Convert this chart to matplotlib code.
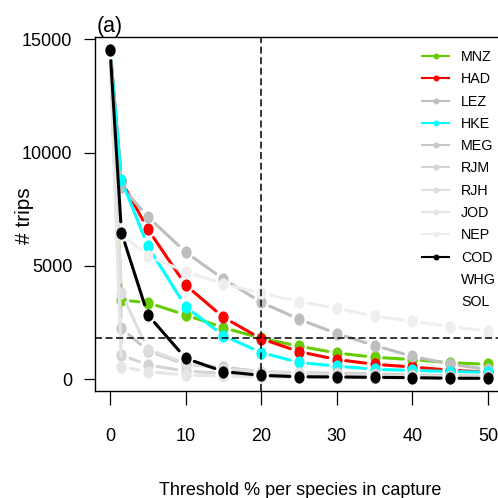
import numpy as np
import matplotlib
matplotlib.use("Agg")
import matplotlib.pyplot as plt
from matplotlib.path import Path
from matplotlib.transforms import Affine2D, IdentityTransform
from matplotlib.collections import LineCollection
from matplotlib.lines import Line2D

plt.rcParams["font.family"] = ["Liberation Sans", "DejaVu Sans"]

# threshold (% per species in capture)
thresholds = [0, 1.5, 5, 10, 15, 20, 25, 30, 35, 40, 45, 50]

species = ["MNZ", "HAD", "LEZ", "HKE", "MEG", "RJM", "RJH", "JOD", "NEP", "COD", "WHG", "SOL"]
colors = ["#66CD00", "#FF0000", "#BEBEBE", "#00FFFF", "#C8C8C8", "#D3D3D3",
          "#DEDEDE", "#E6E6E6", "#EEEEEE", "#000000", "none", "none"]

mnz = [14540, 3490, 3370, 2830, 2270, 1800, 1450, 1150, 960, 860, 720, 650]
had = [14540, 8750, 6620, 4150, 2725, 1780, 1210, 860, 650, 530, 390, 300]
lez = [14540, 8500, 7170, 5600, 4420, 3390, 2640, 2010, 1480, 1000, 660, 420]
hke = [14540, 8790, 5860, 3200, 1915, 1170, 730, 570, 430, 380, 330, 300]
meg = [14540, 2240, 1250, 650, 520, 320, 280, 250, 220, 180, 150, 120]
rjm = [14540, 1060, 620, 350, 250, 180, 140, 110, 90, 70, 60, 50]
rjh = [14540, 3790, 1300, 700, 450, 330, 260, 200, 160, 130, 110, 90]
jod = [14540, 545, 320, 180, 120, 90, 70, 60, 50, 40, 30, 25]
nep = [14540, 6400, 5440, 4740, 4200, 3790, 3420, 3120, 2780, 2560, 2310, 2120]
cod = [14540, 6470, 2830, 915, 330, 160, 100, 90, 75, 60, 35, 30]
series = [mnz, had, lez, hke, meg, rjm, rjh, jod, nep, cod]

h_cut = 1790   # horizontal reference
v_cut = 20     # vertical reference

STRETCH = 1.2  # the original picture is taller than wide
ellipse = Path.unit_circle().transformed(Affine2D().scale(1, STRETCH))


def gapped(ax, xs, ys, gap):
    # R type="b": segments stop short of each point
    pts = ax.transData.transform(np.column_stack([xs, ys]))
    segs = []
    for (x0, y0), (x1, y1) in zip(pts[:-1], pts[1:]):
        dx, dy = x1 - x0, (y1 - y0) / STRETCH
        d = np.hypot(dx, dy)
        if d <= 2 * gap:
            continue
        ux, uy = dx / d, dy / d * STRETCH
        segs.append([(x0 + ux * gap, y0 + uy * gap), (x1 - ux * gap, y1 - uy * gap)])
    return segs


fig = plt.figure(figsize=(4.98, 4.98), dpi=100)
ax = fig.add_axes([95 / 498, 107 / 498, 408 / 498, 354 / 498])
ax.set_xlim(-2, 52)
ax.set_ylim(-530, 15110)

for i, (vals, col) in enumerate(zip(series, colors)):
    z = 3 + i * 0.1
    lc = LineCollection(gapped(ax, thresholds, vals, 9), colors=col, linewidths=2.2,
                        capstyle="round", transform=IdentityTransform(), zorder=z)
    lc.set_clip_on(True)
    lc.set_clip_box(ax.bbox)
    ax.add_collection(lc, autolim=False)
    ax.plot(thresholds, vals, ls="none", marker=ellipse, ms=8.8, color=col, mec="none", zorder=z + 0.05)

ax.axhline(h_cut, color="black", lw=1.1, ls=(0, (4.6, 2.3)), zorder=10)
ax.axvline(v_cut, color="black", lw=1.1, ls=(0, (4.6, 2.3)), zorder=10)

ax.set_xticks([0, 10, 20, 30, 40, 50])
ax.set_yticks([0, 5000, 10000, 15000])
ax.tick_params(axis="x", direction="out", length=10.4, width=0.9, labelsize=13, pad=16)
ax.tick_params(axis="y", direction="out", length=7.9, width=0.9, labelsize=13, pad=8.5)
for s in ax.spines.values():
    s.set_linewidth(1.0)

fig.text(24 / 498, 1 - 216 / 498, "# trips", fontsize=15, rotation=90, ha="center", va="center")
fig.text(300 / 498, 3 / 498, "Threshold % per species in capture", fontsize=13,
         ha="center", va="baseline")
fig.text(97 / 498, 1 - 32 / 498, "(a)", fontsize=15.5, ha="left", va="baseline")

handles = [Line2D([], [], color=c, lw=1.5, marker="o", ms=4.3, mec="none") for c in colors]
leg = ax.legend(handles, species, loc="upper left", bbox_to_anchor=(422 / 498, 1 - 50 / 498),
                bbox_transform=fig.transFigure, frameon=False, fontsize=10.3,
                handlelength=1.9, handletextpad=0.84, labelspacing=0.58,
                borderpad=0, borderaxespad=0)

fig.savefig("out.png", dpi=100)
